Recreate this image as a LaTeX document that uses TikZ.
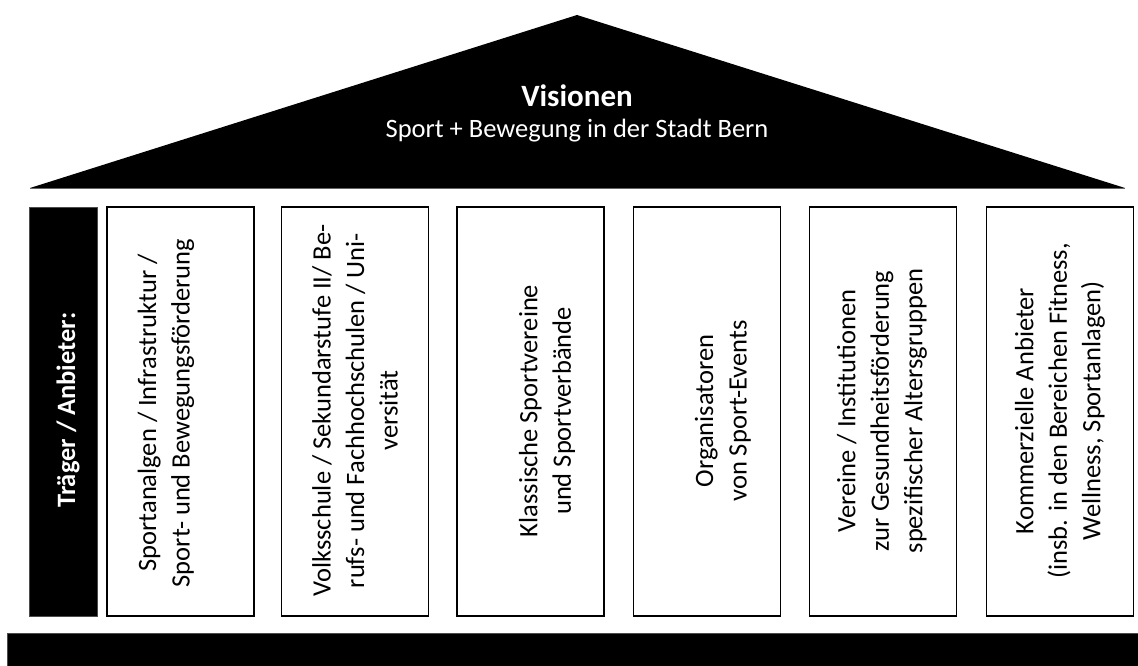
\documentclass[tikz,border=0pt]{standalone}
\usepackage{fontspec}
\setmainfont{Carlito}
\begin{document}
\begin{tikzpicture}[x=1pt,y=-1pt,
  pillar/.style={draw=black, line width=1.6pt, minimum width=147pt, minimum height=409pt, inner sep=0pt, fill=white},
  ptext/.style={rotate=90, align=center, inner sep=0pt, font=\fontsize{26.5}{33.5}\selectfont},
  blackbar/.style={fill=black, draw=black!70, line width=1pt, inner sep=0pt}]
\useasboundingbox (0,0) rectangle (1138,666);
% roof
\coordinate (rl) at (30,188);
\coordinate (ra) at (577,15);
\coordinate (rr) at (1125,188);
\fill[black] (rl) -- (ra) -- (rr) -- cycle;
\draw[black!60, line width=0.8pt] (rl) -- (rr);
\node[text=white, font=\fontsize{31}{36}\selectfont\bfseries] (vis) at (577,96) {Visionen};
\node[text=white, font=\fontsize{26.5}{32}\selectfont] (sub) at (577,131) {Sport + Bewegung in der Stadt Bern};
% left column
\node[blackbar, minimum width=68pt, minimum height=409pt] (col) at (63,411.5) {};
\node[text=white, rotate=90, inner sep=0pt, font=\fontsize{26.5}{32}\selectfont\bfseries] (coltext) at (68,410) {Träger / Anbieter:};
% pillars
\node[pillar] (b1) at (180.5,411.5) {};
\node[pillar] (b2) at (355,411.5) {};
\node[pillar] (b3) at (530.5,411.5) {};
\node[pillar] (b4) at (707,411.5) {};
\node[pillar] (b5) at (883,411.5) {};
\node[pillar] (b6) at (1060,411.5) {};
\node[ptext] (t1) at (166,413) {Sportanalgen / Infrastruktur /\\Sport- und Bewegungsförderung};
\node[ptext] (t2) at (355,410.5) {Volksschule / Sekundarstufe II/ Be-\\rufs- und Fachhochschulen / Uni-\\versität};
\node[ptext] (t3) at (547,411) {Klassische Sportvereine\\und Sportverbände};
\node[ptext] (t4) at (723,411) {Organisatoren\\von Sport-Events};
\node[ptext] (t5) at (882,411) {Vereine / Institutionen\\zur Gesundheitsförderung\\spezifischer Altersgruppen};
\node[ptext] (t6) at (1060,411) {Kommerzielle Anbieter\\(insb. in den Bereichen Fitness,\\Wellness, Sportanlagen)};
% base
\node[blackbar, minimum width=1140pt, minimum height=36pt, anchor=north west] (bar) at (7,633) {};
\end{tikzpicture}
\end{document}
